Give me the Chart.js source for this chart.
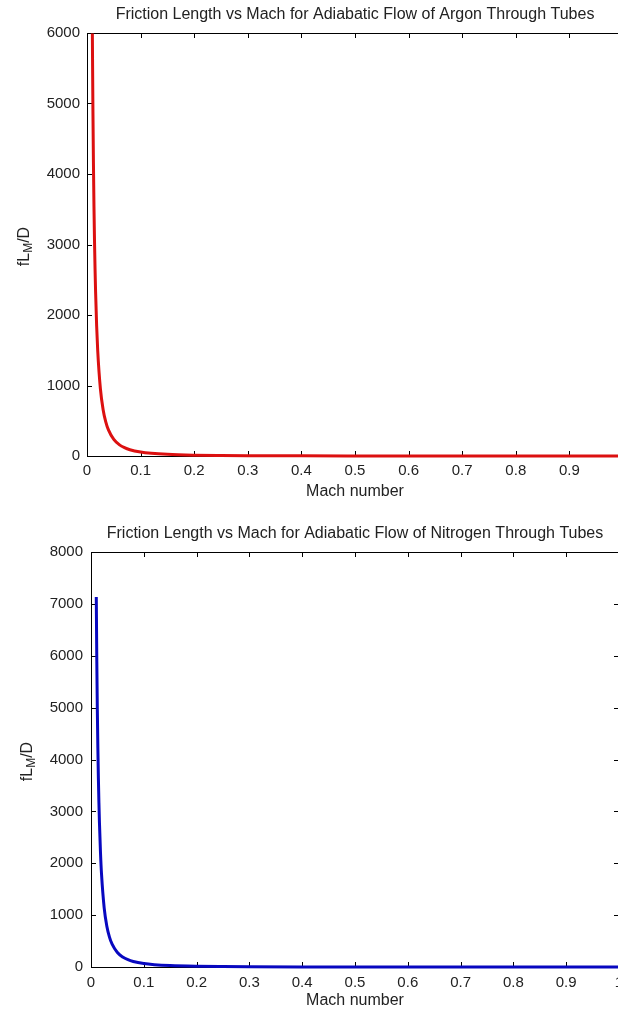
<!DOCTYPE html>
<html><head><meta charset="utf-8">
<script src="https://cdn.jsdelivr.net/npm/chart.js@4"></script>
<style>
html,body{margin:0;padding:0;background:#fff;}
#wrap{width:618px;height:1010px;overflow:hidden;position:relative;background:#fff;}
.box{position:absolute;left:0;width:640px;height:505px;}
</style></head><body>
<div id="wrap">
<div class="box" style="top:0"><canvas id="c1" width="640" height="505"></canvas></div>
<div class="box" style="top:505px"><canvas id="c2" width="640" height="505"></canvas></div>
</div>
<script>
// ---- data ----
const machNumbers = [0.01,0.011,0.012,0.013,0.014,0.015,0.016,0.018,0.02,0.025,0.03,0.035,0.04,0.05,0.06,0.07,0.08,0.1,0.12,0.15,0.2,0.25,0.3,0.4,0.5,0.6,0.7,0.8,0.9,1.0];
const argonFLD = [5992,4951,4159,3543,3054,2660,2337,1845,1493,954,661,484,370,235,162,118,89,56,38,23.3,12.0,7.0,4.35,1.87,0.86,0.39,0.16,0.06,0.01,0];
const nitrogenFLD = [7134,5895,4952,4219,3636,3167,2783,2197,1779,1136,787,577,440,280,193,141,107,67,45.4,27.9,14.5,8.5,5.3,2.3,1.07,0.49,0.21,0.07,0.01,0];
const xTickLabels = ['0','0.1','0.2','0.3','0.4','0.5','0.6','0.7','0.8','0.9','1'];
const argonYTickLabels = ['0','1000','2000','3000','4000','5000','6000'];
const nitrogenYTickLabels = ['0','1000','2000','3000','4000','5000','6000','7000','8000'];
const argonTitle = 'Friction Length vs Mach for Adiabatic Flow of Argon Through Tubes';
const nitrogenTitle = 'Friction Length vs Mach for Adiabatic Flow of Nitrogen Through Tubes';
const xAxisTitle = 'Mach number';

const FONT = '"Liberation Sans", Arial, Helvetica, sans-serif';
const TITLE_SIZE = 16;

const boxPlugin = {
  id: 'matlabBox',
  beforeDatasetsDraw(chart) {
    const {ctx, chartArea: a} = chart;
    const xs = chart.scales.x, ys = chart.scales.y;
    ctx.save();
    ctx.strokeStyle = '#000';
    ctx.lineWidth = 1;
    ctx.beginPath();
    ctx.rect(Math.round(a.left) + 0.5, Math.round(a.top) + 0.5, Math.round(a.right - a.left), Math.round(a.bottom - a.top));
    const tl = 5;
    xs.ticks.forEach(t => {
      const p = Math.round(xs.getPixelForValue(t.value)) + 0.5;
      ctx.moveTo(p, a.bottom); ctx.lineTo(p, a.bottom - tl);
      ctx.moveTo(p, a.top); ctx.lineTo(p, a.top + tl);
    });
    ys.ticks.forEach(t => {
      const p = Math.round(ys.getPixelForValue(t.value)) + 0.5;
      ctx.moveTo(a.left, p); ctx.lineTo(a.left + tl, p);
      ctx.moveTo(a.right, p); ctx.lineTo(a.right - tl, p);
    });
    ctx.stroke();
    ctx.restore();
  },
  afterDraw(chart) {
    // y-axis label fL_M/D with subscript M
    const {ctx, chartArea: a} = chart;
    const cy = (a.top + a.bottom) / 2 + 2;
    const cx = chart.options.plugins.matlabBox.labelX;
    ctx.save();
    ctx.translate(cx, cy);
    ctx.rotate(-Math.PI / 2);
    ctx.fillStyle = '#222';
    ctx.textBaseline = 'alphabetic';
    ctx.textAlign = 'left';
    const big = '16px ' + FONT, small = '12px ' + FONT;
    ctx.font = big; const w1 = ctx.measureText('fL').width;
    ctx.font = small; const w2 = ctx.measureText('M').width;
    ctx.font = big; const w3 = ctx.measureText('/D').width;
    let x = -(w1 + w2 + w3) / 2;
    ctx.font = big; ctx.fillText('fL', x, 6); x += w1;
    ctx.font = small; ctx.fillText('M', x, 9); x += w2;
    ctx.font = big; ctx.fillText('/D', x, 6);
    ctx.restore();
  }
};

function makeChart(id, title, values, color, yMax, yLabels, g) {
  const canvas = document.getElementById(id);
  return new Chart(canvas, {
    type: 'scatter',
    data: {
      datasets: [{
        data: machNumbers.map((m, i) => ({x: m, y: values[i]})),
        showLine: true,
        borderColor: color,
        backgroundColor: color,
        borderWidth: 3,
        pointRadius: 0,
        cubicInterpolationMode: 'monotone',
        clip: 3
      }]
    },
    options: {
      responsive: false,
      animation: false,
      devicePixelRatio: 1,
      layout: {padding: {left: 0, right: 640 - g.right, top: 0, bottom: 0}},
      plugins: {
        legend: {display: false},
        tooltip: {enabled: false},
        title: {
          display: true, text: title, fullSize: false, color: '#222',
          font: {family: FONT, size: TITLE_SIZE, weight: 'normal', lineHeight: 1},
          padding: {top: g.titleTop, bottom: g.top - g.titleTop - TITLE_SIZE}
        },
        matlabBox: {labelX: g.labelX}
      },
      scales: {
        x: {
          type: 'linear', min: 0, max: 1,
          afterFit(s) { s.height = 505 - g.bottom; },
          grid: {display: false, drawTicks: false},
          border: {display: false},
          ticks: {
            stepSize: 0.1, autoSkip: false, maxRotation: 0, padding: g.xPad,
            color: '#222', font: {family: FONT, size: 15},
            callback: (v, i) => xTickLabels[i]
          },
          title: {display: true, text: xAxisTitle, color: '#222',
            font: {family: FONT, size: 16, lineHeight: 1.2}, padding: {top: 0, bottom: g.xTitlePad}}
        },
        y: {
          type: 'linear', min: 0, max: yMax,
          afterFit(s) { s.width = g.left; },
          grid: {display: false, drawTicks: false},
          border: {display: false},
          ticks: {
            stepSize: 1000, autoSkip: false, padding: g.yPad,
            color: '#222', font: {family: FONT, size: 15},
            callback: (v, i) => yLabels[i]
          }
        }
      }
    },
    plugins: [boxPlugin]
  });
}

makeChart('c1', argonTitle, argonFLD, '#dc1010', 6000, argonYTickLabels,
  {left: 87, right: 623, top: 33, bottom: 456, titleTop: 7, xPad: 6, xTitlePad: 4, yPad: 7, labelX: 23});
makeChart('c2', nitrogenTitle, nitrogenFLD, '#0808c0', 8000, nitrogenYTickLabels,
  {left: 91, right: 619, top: 47, bottom: 462, titleTop: 21, xPad: 7, xTitlePad: 0, yPad: 8, labelX: 26});
</script>
</body></html>
